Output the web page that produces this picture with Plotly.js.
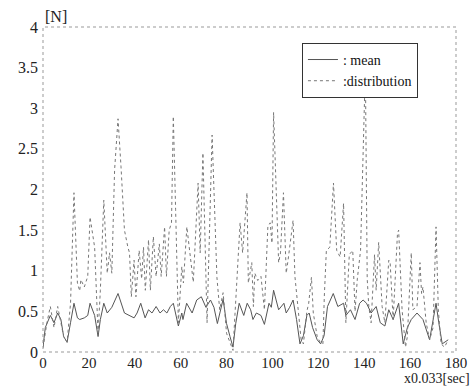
<!DOCTYPE html>
<html>
<head>
<meta charset="utf-8">
<script src="https://cdn.plot.ly/plotly-3.0.1.min.js"></script>
<style>html,body{margin:0;padding:0;background:#fff;}#chart{width:473px;height:388px;}</style>
</head>
<body>
<div id="chart"></div>
<script>
const distX = [0,1.7,3.2,4.8,6.4,7.8,9,10.5,12,13.5,15,16,16.5,18,19.5,20.5,22.5,24,25,26.5,28,29,30,31.2,32.7,34,35.5,37,37.7,38.5,39.7,40.5,41.9,43,43.8,44.6,46,46.8,48.1,49.3,50.7,51.5,53,53.8,55,56,56.8,57.8,58.5,59,60.5,61.2,62.7,65.5,67.6,68.5,69.7,71.5,73.7,75.8,77,78.5,80,82.8,85.9,87,88.9,89.5,91,91.7,92.3,93.6,95,96.5,98,99,99.8,100.5,102.7,103.5,104.8,106,106.8,109,109.8,112.5,113.5,115,115.8,117,117.8,119.5,120.8,122,122.6,123.5,125,126.6,128,129.5,131,132,133.5,135,136,137,138.4,139.5,140.5,141.3,142,143,144.5,145.2,146.3,147.8,149,150.7,151.3,152.6,154.5,155,156.5,158,158.8,160.5,161.2,163,164.3,165,165.6,167,168.5,170,171.3,172.3,173.5,175,176.6];
const distY = [0.05,0.36,0.56,0.3,0.56,0.36,0.19,0.12,0.6,1.96,0.85,0.75,0.89,0.8,0.93,1.66,1.29,0.23,0.76,1.87,0.97,1.22,0.97,2.24,2.87,2.28,1.5,1.29,1.22,0.68,1.13,0.68,1.25,0.9,1.29,0.76,1.38,0.76,1.42,0.93,1.33,0.93,1.54,0.93,1.5,1.59,2.9,1.75,0.76,0.36,1.05,0.85,1.54,0.86,2.08,1.22,2.45,0.36,2.67,0.92,0.52,0.73,0.23,0.02,1.59,1.22,1.96,0.85,1.1,0.56,0.97,0.88,0.93,0.52,1.54,1.59,1.34,2.95,1.1,1.22,1.96,0.97,1.13,1.62,0.93,0.15,0.1,0.5,0.6,0.92,0.48,0.19,0.12,0.1,0.68,1.25,1.29,2.08,1.25,1.17,1.83,0.36,1.2,1.25,0.5,0.9,1.25,2.5,3.5,0.9,0.56,0.36,1.2,0.76,1.35,0.56,0.36,1.13,1.1,0.4,1.46,1.5,0.52,0.06,0.19,1.22,0.52,0.56,1.1,0.72,0.8,0.36,0.15,0.3,1.54,0.52,0.1,0.06,0.15];
const meanX = [0,1,3.2,4.8,6.4,7.8,9,10.5,12,13.5,15,16,18,19.5,20.5,22.5,24,25,26.5,28,30,32.7,35.5,37.5,39.7,41,42.6,44.5,46,47.5,49.3,51,52.5,54,55.5,56.8,58,59,60.5,61,62.6,65,67,69,71,73,74.5,76,78.5,80,81.5,82.8,84,85.5,87.5,89,90.5,91.5,93,95,96.5,98.5,99.5,100.5,102.7,105,106,107.5,109,110.5,112,113.5,115,116,117.5,119.5,121,122.5,124,126.5,128.5,131,132,134,136,138,139.5,141,143,145.2,147,149,150.7,152.6,155,157,158.8,160.5,163,165.6,168.5,170.5,171.3,172.5,174,176.6];
const meanY = [0.06,0.3,0.45,0.36,0.48,0.4,0.19,0.12,0.36,0.6,0.42,0.4,0.42,0.45,0.6,0.45,0.19,0.4,0.6,0.48,0.55,0.72,0.48,0.45,0.42,0.48,0.6,0.42,0.52,0.48,0.56,0.48,0.52,0.48,0.56,0.6,0.45,0.32,0.48,0.4,0.6,0.48,0.64,0.68,0.55,0.64,0.55,0.35,0.65,0.35,0.19,0.06,0.35,0.6,0.45,0.6,0.52,0.4,0.48,0.45,0.34,0.6,0.55,0.76,0.52,0.6,0.48,0.55,0.64,0.4,0.1,0.2,0.45,0.48,0.3,0.15,0.1,0.2,0.56,0.72,0.56,0.6,0.45,0.52,0.4,0.6,0.64,0.6,0.48,0.56,0.36,0.32,0.52,0.4,0.6,0.1,0.3,0.4,0.48,0.4,0.15,0.45,0.6,0.36,0.1,0.15];
const xTicks = [0,20,40,60,80,100,120,140,160,180];
const yTicks = [0,0.5,1,1.5,2,2.5,3,3.5,4];
const yTickText = ['0','0.5','1','1.5','2','2.5','3','3.5','4'];

const serif = '"Liberation Serif", "Times New Roman", Times, serif';
const traces = [
  {x: meanX, y: meanY, name: ': mean', type: 'scatter', mode: 'lines',
   line: {color: '#555', width: 1}},
  {x: distX, y: distY, name: ':distribution', type: 'scatter', mode: 'lines',
   line: {color: '#777', width: 1, dash: 'dot'}}
];
const layout = {
  width: 473, height: 388,
  margin: {l: 43, r: 17, t: 27, b: 36},
  paper_bgcolor: '#fff', plot_bgcolor: '#fff',
  showlegend: true,
  legend: {x: 0.627, y: 0.951, xanchor: 'left', yanchor: 'top',
    bgcolor: '#fff', bordercolor: '#333', borderwidth: 1,
    font: {family: serif, size: 14, color: '#111'}, tracegroupgap: 0,
    itemwidth: 30},
  xaxis: {range: [0, 180], tickvals: xTicks, ticktext: xTicks.map(String),
    showgrid: false, zeroline: false, showline: false, ticks: '',
    ticklabelstandoff: 0,
    tickfont: {family: serif, size: 15, color: '#222'}},
  yaxis: {range: [0, 4], tickvals: yTicks, ticktext: yTickText,
    showgrid: false, zeroline: false, showline: false, ticks: '',
    ticklabelstandoff: 4,
    tickfont: {family: serif, size: 16, color: '#222'}},
  shapes: [
    {type: 'rect', xref: 'paper', yref: 'paper', x0: 0, x1: 1, y0: 0, y1: 1,
     line: {color: '#999', width: 1, dash: 'dot'}}
  ],
  annotations: [
    {text: '[N]', xref: 'paper', yref: 'paper', x: 0, y: 1, xanchor: 'left', yanchor: 'bottom',
     yshift: 0, showarrow: false, font: {family: serif, size: 16, color: '#222'}},
    {text: 'x0.033[sec]', xref: 'paper', yref: 'paper', x: 1.039, y: -0.083, xanchor: 'right', yanchor: 'middle',
     showarrow: false, font: {family: serif, size: 14, color: '#222'}}
  ]
};
Plotly.newPlot('chart', traces, layout, {displayModeBar: false, staticPlot: true});
</script>
</body>
</html>
